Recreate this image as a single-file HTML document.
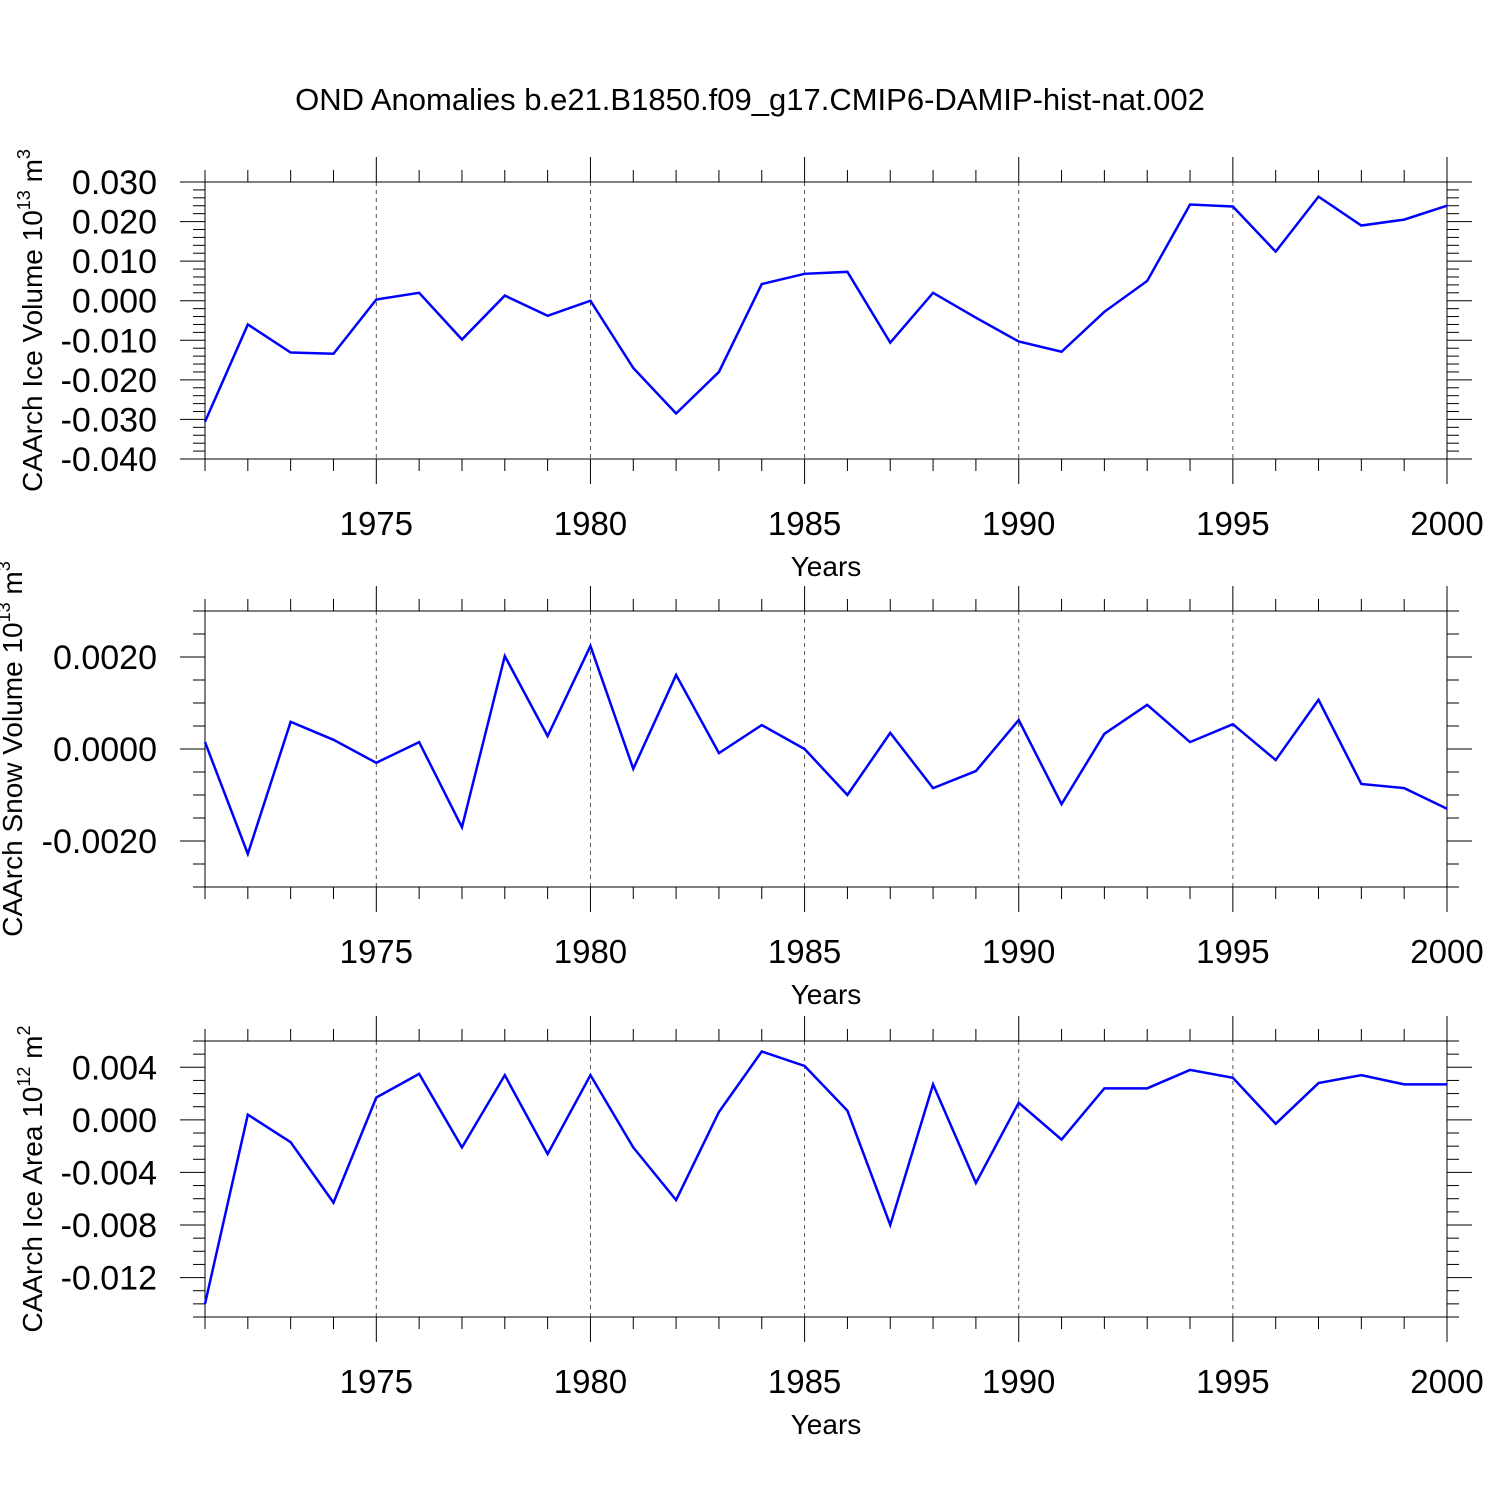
<!DOCTYPE html>
<html><head><meta charset="utf-8"><style>body{margin:0;background:#fff}svg{display:block}text{font-family:"Liberation Sans",sans-serif;fill:#000}</style></head>
<body>
<svg id="c" width="1500" height="1500" xmlns="http://www.w3.org/2000/svg">
<text x="750" y="110" font-size="31" text-anchor="middle">OND Anomalies b.e21.B1850.f09_g17.CMIP6-DAMIP-hist-nat.002</text>
</svg>
<script>
const years = [1971,1972,1973,1974,1975,1976,1977,1978,1979,1980,1981,1982,1983,1984,1985,1986,1987,1988,1989,1990,1991,1992,1993,1994,1995,1996,1997,1998,1999,2000];
const iceVolume = [-0.0306,-0.006,-0.0131,-0.0134,0.0003,0.002,-0.0098,0.0013,-0.0038,0.0,-0.017,-0.0285,-0.018,0.0042,0.0068,0.0073,-0.0106,0.002,-0.0043,-0.0103,-0.0129,-0.0028,0.005,0.0243,0.0238,0.0124,0.0263,0.019,0.0205,0.024];
const snowVolume = [0.00015,-0.00228,0.00059,0.0002,-0.0003,0.00015,-0.0017,0.00202,0.00028,0.00224,-0.00043,0.00161,-0.00009,0.00052,0,-0.001,0.00035,-0.00085,-0.00048,0.00063,-0.0012,0.00033,0.00096,0.00015,0.00054,-0.00024,0.00107,-0.00076,-0.00085,-0.0013];
const iceArea = [-0.014,0.0004,-0.0017,-0.0063,0.0017,0.0035,-0.0021,0.0034,-0.0026,0.0034,-0.0021,-0.0061,0.0006,0.0052,0.0041,0.0007,-0.008,0.0027,-0.0048,0.0013,-0.0015,0.0024,0.0024,0.0038,0.0032,-0.0003,0.0028,0.0034,0.0027,0.0027];
const xTickLabels = [1975,1980,1985,1990,1995,2000];
const iceVolTicks = ["0.030","0.020","0.010","0.000","-0.010","-0.020","-0.030","-0.040"];
const snowTicks = ["0.0020","0.0000","-0.0020"];
const areaTicks = ["0.004","0.000","-0.004","-0.008","-0.012"];

const svg=document.getElementById('c');const NS='http://www.w3.org/2000/svg';
function mk(t,a,p){const e=document.createElementNS(NS,t);for(const k in a)e.setAttribute(k,a[k]);(p||svg).appendChild(e);return e;}
const X0=205,X1=1447;
const xs=v=>X0+(v-1971)/(2000-1971)*(X1-X0);
const panels=[
 {name:'ice-volume',top:182,bot:459,min:-0.04,max:0.03,data:iceVolume,labels:iceVolTicks,major:0.01,minor:0.002,title:'CAArch Ice Volume 10',sup:'13',unit:' m',usup:'3',tx:42},
 {name:'snow-volume',top:611,bot:887,min:-0.003,max:0.003,data:snowVolume,labels:snowTicks,major:0.002,minor:0.0005,title:'CAArch Snow Volume 10',sup:'13',unit:' m',usup:'3',tx:22},
 {name:'ice-area',top:1041,bot:1317,min:-0.015,max:0.006,data:iceArea,labels:areaTicks,major:0.004,minor:0.001,title:'CAArch Ice Area 10',sup:'12',unit:' m',usup:'2',tx:42}
];
panels.forEach(p=>{
 const g=mk('g',{});
 
 
 const ys=v=>p.bot-(v-p.min)/(p.max-p.min)*(p.bot-p.top);
 xTickLabels.forEach(y=>{if(y<2000){const l=mk('line',{x1:xs(y),x2:xs(y),y1:p.top,y2:p.bot,stroke:'#555','stroke-width':1,'stroke-dasharray':'4,4'},g);}});
 years.forEach(y=>{const L=(y%5===0)?25:12;
  mk('line',{x1:xs(y),x2:xs(y),y1:p.top-L,y2:p.top,stroke:'#000'},g);
  mk('line',{x1:xs(y),x2:xs(y),y1:p.bot,y2:p.bot+L,stroke:'#000'},g);});
 xTickLabels.forEach(y=>{const t=mk('text',{x:xs(y),y:p.bot+76,'font-size':33,'text-anchor':'middle'},g);t.textContent=y;});
 const xt=mk('text',{x:826,y:p.bot+117,'font-size':28,'text-anchor':'middle'},g);xt.textContent='Years';
 
 const n=Math.round((p.max-p.min)/p.minor);
 for(let i=0;i<=n;i++){const v=p.min+i*p.minor;const isM=Math.abs(Math.round(v/p.major)*p.major-v)<1e-9;const L=isM?25:12;
  mk('line',{x1:X0-L,x2:X0,y1:ys(v),y2:ys(v),stroke:'#000'},g);
  mk('line',{x1:X1,x2:X1+L,y1:ys(v),y2:ys(v),stroke:'#000'},g);}
 p.labels.forEach(s=>{const t=mk('text',{x:157,y:ys(parseFloat(s))+12,'font-size':34,'text-anchor':'end'},g);t.textContent=s;});
 mk('rect',{x:X0,y:p.top,width:X1-X0,height:p.bot-p.top,fill:'none',stroke:'#000','stroke-width':1},g);
 const yt=mk('text',{x:0,y:0,'font-size':28,'text-anchor':'middle',transform:`translate(${p.tx},${(p.top+p.bot)/2}) rotate(-90)`},g);
 
 yt.innerHTML=p.title+'<tspan dy="-12" font-size="18">'+p.sup+'</tspan><tspan dy="12">'+p.unit+'</tspan><tspan dy="-12" font-size="18">'+p.usup+'</tspan>';
 const pts=p.data.map((v,i)=>xs(years[i])+','+ys(v)).join(' ');
 const pl=mk('polyline',{points:pts,fill:'none',stroke:'#0000ff','stroke-width':2.5},g);
 
});
</script>
</body></html>
